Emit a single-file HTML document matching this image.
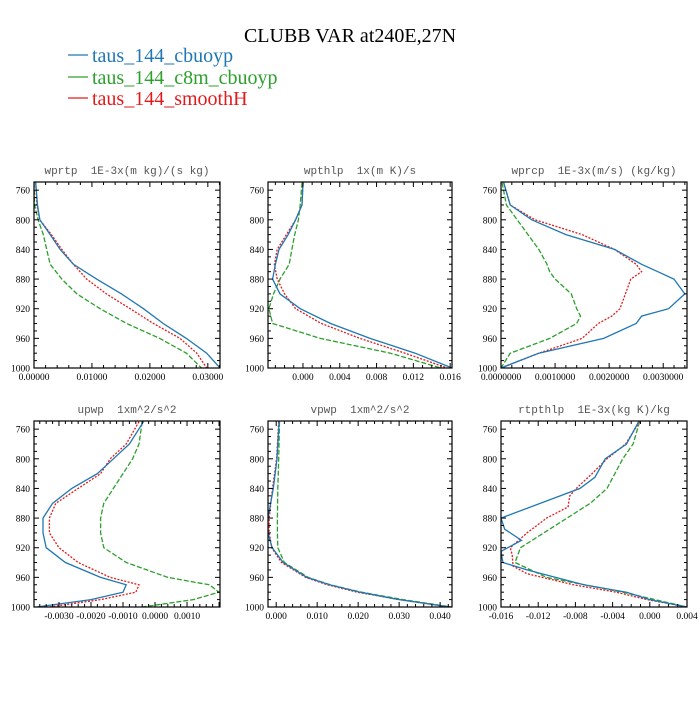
<!DOCTYPE html>
<html><head><meta charset="utf-8"><style>
body{margin:0;background:#fff;}
svg text{font-family:"Liberation Serif",serif;}
svg text.pt{font-family:"Liberation Mono",monospace;}
</style></head><body>
<svg id="c" width="700" height="700" viewBox="0 0 700 700" xmlns="http://www.w3.org/2000/svg">
<text x="350" y="42" text-anchor="middle" font-size="20">CLUBB VAR at240E,27N</text>
<g>
<g><line x1="68" y1="55" x2="88" y2="55" stroke="#1f77b4" stroke-width="1.2"/><text x="92" y="62" font-size="20" fill="#1f77b4">taus_144_cbuoyp</text></g>
<g><line x1="68" y1="77" x2="88" y2="77" stroke="#2ca02c" stroke-width="1.2"/><text x="92" y="84" font-size="20" fill="#2ca02c">taus_144_c8m_cbuoyp</text></g>
<g><line x1="68" y1="98" x2="88" y2="98" stroke="#e31a1c" stroke-width="1.2"/><text x="92" y="105" font-size="20" fill="#e31a1c">taus_144_smoothH</text></g>
</g>
</svg>
<script>
// pressure levels per panel and series values
const p1Lev=[750,780,800,820,840,860,880,900,920,940,960,980,1000];
const p1Blue=[0.0003,0.0006,0.001,0.0028,0.0045,0.0068,0.0108,0.0151,0.0189,0.0223,0.0263,0.0298,0.0321];
const p1Red=[0.0003,0.0005,0.001,0.003,0.0048,0.0068,0.0091,0.0125,0.0166,0.0206,0.0252,0.0281,0.0298];
const p1Green=[0,0.0001,0.0007,0.0016,0.0022,0.0028,0.0048,0.0074,0.0114,0.016,0.0217,0.0263,0.0289];
const p2Lev=[750,780,800,820,840,860,880,900,920,940,960,980,1000];
const p2Blue=[0,-0.0001,-0.0008,-0.0016,-0.0026,-0.003,-0.0033,-0.0025,-0.0003,0.003,0.0073,0.0122,0.0162];
const p2Red=[0,-0.0001,-0.0008,-0.0018,-0.0028,-0.0031,-0.0028,-0.002,-0.0008,0.002,0.0062,0.0111,0.0157];
const p2Green=[-0.0001,-0.0003,-0.0005,-0.0009,-0.0012,-0.0015,-0.0025,-0.0032,-0.0037,-0.0033,0.0019,0.0095,0.015];
const p3Lev=[750,780,800,820,840,860,870,880,900,920,930,940,960,980,1000];
const p3Blue=[0.00005,0.00017,0.00057,0.0012,0.0021,0.0026,0.0029,0.0032,0.0034,0.0031,0.0026,0.0025,0.0019,0.0007,0];
const p3Red=[0.00005,0.00017,0.00063,0.0015,0.0021,0.0025,0.0026,0.0024,0.0023,0.0022,0.00205,0.0018,0.0015,0.0007,0];
const p3Green=[0.00002,0.0001,0.0003,0.0005,0.0007,0.00085,0.0009,0.001,0.0013,0.0014,0.00147,0.0014,0.0009,0.00017,0];
const p4Lev=[750,780,800,820,840,860,880,900,920,940,960,970,980,990,1000];
const p4Blue=[-0.00036,-0.0008,-0.0013,-0.0018,-0.0026,-0.0032,-0.0035,-0.0035,-0.0034,-0.0028,-0.0017,-0.0009,-0.001,-0.002,-0.0037];
const p4Red=[-0.0005,-0.0009,-0.0014,-0.0017,-0.0024,-0.0031,-0.0033,-0.0033,-0.003,-0.0024,-0.0014,-0.0005,-0.0006,-0.0017,-0.0033];
const p4Green=[-0.0004,-0.0005,-0.0007,-0.001,-0.0013,-0.0016,-0.0017,-0.0017,-0.0016,-0.0009,0.0004,0.0017,0.002,0.0012,-0.0004];
const p5Lev=[750,800,840,880,900,920,940,960,970,980,990,1000];
const p5Blue=[0.0007,0.0002,-0.0007,-0.002,-0.002,-0.001,0.0017,0.0075,0.013,0.0205,0.03,0.0424];
const p5Red=[0.0006,0.0001,-0.0009,-0.0017,-0.0017,-0.0011,0.0013,0.0072,0.0125,0.0198,0.03,0.0422];
const p5Green=[0.0008,0.0006,0.0004,0.0003,0.0003,0.0004,0.002,0.0078,0.0132,0.0208,0.031,0.0428];
const p6LevB=[750,780,800,825,840,880,895,910,925,940,950,970,980,990,1000];
const p6Blue=[-0.0012,-0.0025,-0.0048,-0.0059,-0.0075,-0.016,-0.0156,-0.0138,-0.016,-0.0158,-0.0132,-0.0071,-0.0025,0,0.004];
const p6LevR=[750,780,800,820,840,850,865,880,900,920,930,945,955,970,980,990,1000];
const p6Red=[-0.0011,-0.0026,-0.0046,-0.0062,-0.0079,-0.0086,-0.0088,-0.0111,-0.0132,-0.015,-0.0148,-0.0147,-0.0132,-0.0082,-0.0036,-0.0003,0.004];
const p6LevG=[750,780,800,840,860,880,900,920,940,960,980,1000];
const p6Green=[-0.0011,-0.0018,-0.0029,-0.0046,-0.0064,-0.0089,-0.0114,-0.0139,-0.0145,-0.0111,-0.0029,0.004];
const yTicks=[760,800,840,880,920,960,1000];
const p1Ticks=["0.00000","0.01000","0.02000","0.03000"];
const p2Ticks=["0.000","0.004","0.008","0.012","0.016"];
const p3Ticks=["0.0000000","0.0010000","0.0020000","0.0030000"];
const p4Ticks=["-0.0030","-0.0020","-0.0010","0.0000","0.0010"];
const p5Ticks=["0.000","0.010","0.020","0.030","0.040"];
const p6Ticks=["-0.016","-0.012","-0.008","-0.004","0.000","0.004"];

const NS="http://www.w3.org/2000/svg";
const svg=document.getElementById('c');
function mk(tag,attrs,parent){const e=document.createElementNS(NS,tag);for(const k in attrs)e.setAttribute(k,attrs[k]);parent.appendChild(e);return e;}
const COL={blue:"#1f77b4",green:"#2ca02c",red:"#e31a1c"};
const DASH={blue:"",green:"5,2",red:"2,1.5"};
function panel(name,title,x0,x1,y0,y1,xmin,xmax,ticks,minorStep,series){
  const g=mk('g',{},svg);
  
  
  const pmin=749,pmax=1000;
  const X=v=>x0+(v-xmin)/(xmax-xmin)*(x1-x0);
  const Y=p=>y0+(p-pmin)/(pmax-pmin)*(y1-y0);
  const t=mk('text',{x:(x0+x1)/2,y:y0-8,'text-anchor':'middle','font-size':11,fill:'#555','class':'pt'},g);
  t.textContent=title;
  t.setAttribute('xml:space','preserve');
  t.style.whiteSpace='pre';
  
  
  const clip=mk('clipPath',{id:'cl'+name},g);
  mk('rect',{x:x0,y:y0,width:x1-x0,height:y1-y0},clip);
  const lg=mk('g',{'clip-path':'url(#cl'+name+')'},g);
  series.forEach(s=>{
    const d=s.vals.map((v,i)=>(i?'L':'M')+X(v).toFixed(1)+','+Y(s.lev[i]).toFixed(1)).join('');
    const pth=mk('path',{d:d,fill:'none',stroke:COL[s.c],'stroke-width':1.3,'stroke-dasharray':DASH[s.c]},lg);
    
    
  });
  for(let p=760;p<=1000;p+=10){
    const maj=(p-760)%40===0, L=maj?5:3, y=Y(p);
    mk('line',{x1:x0,y1:y,x2:x0+L,y2:y,stroke:'#000','stroke-width':1},g);
    mk('line',{x1:x1,y1:y,x2:x1-L,y2:y,stroke:'#000','stroke-width':1},g);
  }
  yTicks.forEach(p=>{
    const tl=mk('text',{x:x0-4,y:Y(p)+3.5,'text-anchor':'end','font-size':9.5},g);
    tl.textContent=p;
    
    
  });
  const vals=ticks.map(Number);
  const step=vals[1]-vals[0];
  for(let v=vals[0]-step;v<=xmax+1e-12;v+=minorStep){
    if(v<xmin-1e-12)continue;
    const k=(v-vals[0])/step, maj=Math.abs(k-Math.round(k))<1e-6, L=maj?5:3, x=X(v);
    mk('line',{x1:x,y1:y1,x2:x,y2:y1-L,stroke:'#000','stroke-width':1},g);
    mk('line',{x1:x,y1:y0,x2:x,y2:y0+L,stroke:'#000','stroke-width':1},g);
  }
  ticks.forEach(s=>{
    const tl=mk('text',{x:X(Number(s)),y:y1+12,'text-anchor':'middle','font-size':9.5},g);
    tl.textContent=s;
    
    
  });
  const fr=mk('rect',{x:x0,y:y0,width:x1-x0,height:y1-y0,fill:'none',stroke:'#000','stroke-width':1.2},g);
  
  
}
panel('wprtp','wprtp  1E-3x(m kg)/(s kg)',34,220,182,368,0,0.0321,p1Ticks,0.002,
 [{lev:p1Lev,vals:p1Green,c:'green'},{lev:p1Lev,vals:p1Red,c:'red'},{lev:p1Lev,vals:p1Blue,c:'blue'}]);
panel('wpthlp','wpthlp  1x(m K)/s',268,452,182,368,-0.0038,0.0162,p2Ticks,0.001,
 [{lev:p2Lev,vals:p2Green,c:'green'},{lev:p2Lev,vals:p2Red,c:'red'},{lev:p2Lev,vals:p2Blue,c:'blue'}]);
panel('wprcp','wprcp  1E-3x(m/s) (kg/kg)',501,687,182,368,0,0.00344,p3Ticks,0.0002,
 [{lev:p3Lev,vals:p3Green,c:'green'},{lev:p3Lev,vals:p3Red,c:'red'},{lev:p3Lev,vals:p3Blue,c:'blue'}]);
panel('upwp','upwp  1xm^2/s^2',34,220,421,607,-0.00378,0.00203,p4Ticks,0.0002,
 [{lev:p4Lev,vals:p4Green,c:'green'},{lev:p4Lev,vals:p4Red,c:'red'},{lev:p4Lev,vals:p4Blue,c:'blue'}]);
panel('vpwp','vpwp  1xm^2/s^2',268,452,421,607,-0.002,0.0429,p5Ticks,0.002,
 [{lev:p5Lev,vals:p5Green,c:'green'},{lev:p5Lev,vals:p5Red,c:'red'},{lev:p5Lev,vals:p5Blue,c:'blue'}]);
panel('rtpthlp','rtpthlp  1E-3x(kg K)/kg',501,687,421,607,-0.016,0.004,p6Ticks,0.001,
 [{lev:p6LevG,vals:p6Green,c:'green'},{lev:p6LevR,vals:p6Red,c:'red'},{lev:p6LevB,vals:p6Blue,c:'blue'}]);
</script>
</body></html>
